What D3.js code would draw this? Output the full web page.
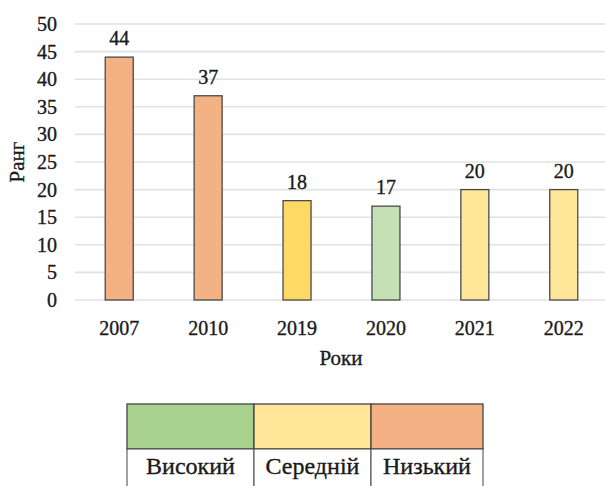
<!DOCTYPE html>
<html>
<head>
<meta charset="utf-8">
<script src="https://cdn.jsdelivr.net/npm/d3@7"></script>
<style>
  body { margin: 0; background: #fff; }
  svg { display: block; font-family: 'Liberation Serif', 'Times New Roman', serif; }
  text { fill: #1a1a1a; stroke: #1a1a1a; stroke-width: 0.35px; }
</style>
</head>
<body>
<div id="chart"></div>
<script>
const years = ['2007', '2010', '2019', '2020', '2021', '2022']
const ranks = [44, 37, 18, 17, 20, 20]
const barColors = ['#F4B183', '#F4B183', '#FFD966', '#C5E0B4', '#FFE699', '#FFE699']
const yTicks = [0, 5, 10, 15, 20, 25, 30, 35, 40, 45, 50]
const legendLabels = ['Високий', 'Середній', 'Низький']
const legendColors = ['#A9D18E', '#FFE699', '#F4B183']

const width = 605,
  height = 486

const svg = d3
  .select('#chart')
  .append('svg')
  .attr('width', width)
  .attr('height', height)

const xScale = d3
  .scaleBand()
  .domain(years)
  .range([75, 608])
  .paddingInner(0.685)
  .paddingOuter(0.34)

const yScale = d3
  .scaleLinear()
  .domain([0, 50])
  .range([300, 24])

// gridlines
svg
  .append('g')
  .selectAll('line')
  .data(yTicks)
  .enter()
  .append('line')
  .attr('x1', 75)
  .attr('x2', 605)
  .attr('y1', d => yScale(d))
  .attr('y2', d => yScale(d))
  .attr('stroke', '#e2e2e2')
  .attr('stroke-width', 1.6)

// y-axis
const yAxis = svg
  .append('g')
  .attr('transform', 'translate(57,0)')
  .call(d3.axisLeft(yScale).tickValues(yTicks).tickSize(0).tickPadding(0))
yAxis.select('.domain').remove()
yAxis.selectAll('text').attr('font-size', 20).attr('font-family', 'Liberation Serif')

// x-axis
const xAxis = svg
  .append('g')
  .attr('transform', 'translate(0,321)')
  .call(d3.axisBottom(xScale).tickSize(0).tickPadding(0))
xAxis.select('.domain').remove()
xAxis.selectAll('text').attr('font-size', 20).attr('font-family', 'Liberation Serif')

// bars
svg
  .selectAll('.bar')
  .data(years)
  .enter()
  .append('rect')
  .attr('class', 'bar')
  .attr('x', d => xScale(d))
  .attr('width', xScale.bandwidth())
  .attr('y', (d, i) => yScale(ranks[i]))
  .attr('height', (d, i) => yScale(0) - yScale(ranks[i]))
  .attr('fill', (d, i) => barColors[i])
  .attr('stroke', '#4a4a4a')
  .attr('stroke-width', 1.3)

// value labels
svg
  .selectAll('.val')
  .data(years)
  .enter()
  .append('text')
  .attr('class', 'val')
  .attr('x', d => xScale(d) + xScale.bandwidth() / 2)
  .attr('y', (d, i) => yScale(ranks[i]) - 12)
  .attr('text-anchor', 'middle')
  .attr('font-size', 20)
  .text((d, i) => ranks[i])

// axis titles
svg
  .append('text')
  .attr('x', 341)
  .attr('y', 365)
  .attr('text-anchor', 'middle')
  .attr('font-size', 21)
  .text('Роки')

svg
  .append('text')
  .attr('transform', 'translate(24,162) rotate(-90)')
  .attr('text-anchor', 'middle')
  .attr('font-size', 21)
  .text('Ранг')

// legend table
const legendX = d3
  .scaleOrdinal()
  .domain(legendLabels)
  .range([127, 254, 371])
const legendW = [127, 117, 112]
const legend = svg.append('g')

legend
  .selectAll('.swatch')
  .data(legendLabels)
  .enter()
  .append('rect')
  .attr('x', d => legendX(d))
  .attr('y', 404)
  .attr('width', (d, i) => legendW[i])
  .attr('height', 45)
  .attr('fill', (d, i) => legendColors[i])
  .attr('stroke', '#444')
  .attr('stroke-width', 1.3)

legend
  .selectAll('.cell')
  .data(legendLabels)
  .enter()
  .append('rect')
  .attr('x', d => legendX(d))
  .attr('y', 449)
  .attr('width', (d, i) => legendW[i])
  .attr('height', 50)
  .attr('fill', '#fff')
  .attr('stroke', '#444')
  .attr('stroke-width', 1)

legend
  .selectAll('.lbl')
  .data(legendLabels)
  .enter()
  .append('text')
  .attr('x', (d, i) => legendX(d) + legendW[i] / 2)
  .attr('y', 474)
  .attr('text-anchor', 'middle')
  .attr('font-size', 24)
  .text(d => d)
</script>
</body>
</html>
